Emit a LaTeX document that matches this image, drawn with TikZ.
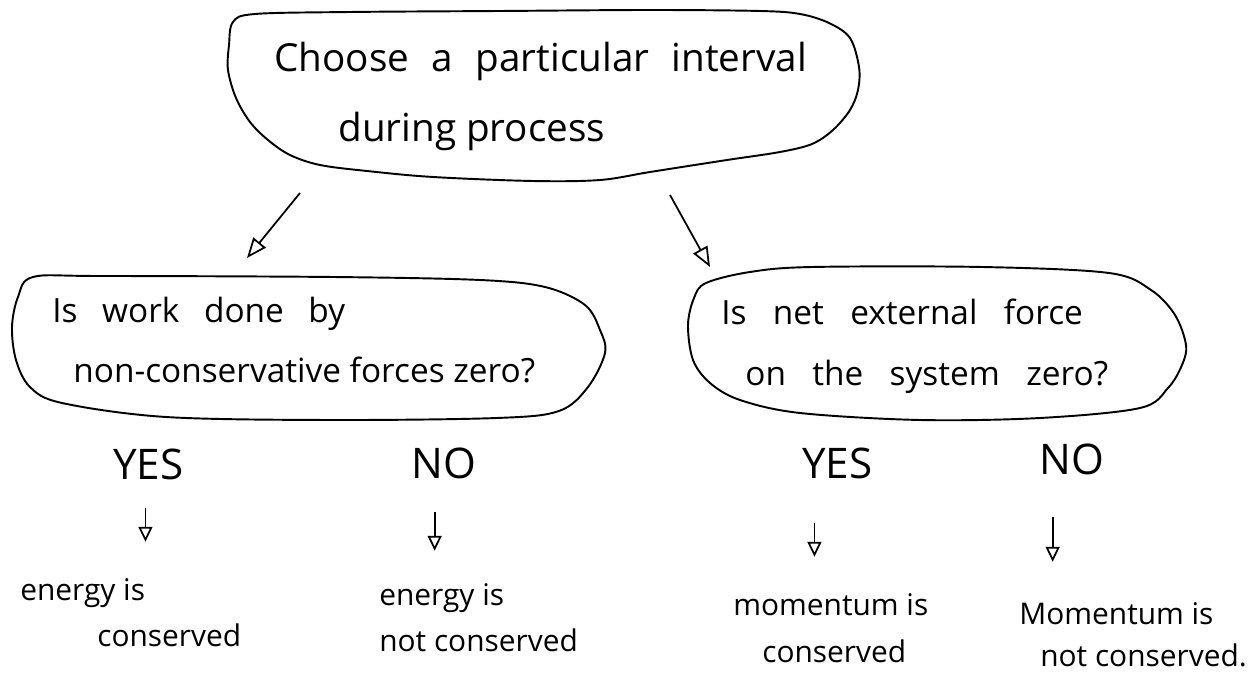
\documentclass[tikz,border=0pt]{standalone}
\usepackage{fontspec}
\setmainfont{Open Sans}
\usepackage{tikz}
\usetikzlibrary{arrows.meta}

\begin{document}
\begin{tikzpicture}[
  x=0.02cm, y=-0.02cm,
  blob/.style={draw, line width=1.1pt, line join=round},
  ttl/.style={anchor=base west, inner sep=0pt, font=\fontsize{22}{26}\selectfont},
  qst/.style={anchor=base west, inner sep=0pt, font=\fontsize{19}{23}\selectfont},
  ans/.style={anchor=base west, inner sep=0pt, font=\fontsize{24}{28}\selectfont},
  res/.style={anchor=base west, inner sep=0pt, font=\fontsize{17}{20}\selectfont},
  ws/.style={execute at begin node={\spaceskip=#1\relax}},
  tri/.style={-{Triangle[open, length=4mm, width=3.2mm]}, line width=1pt},
  dn/.style={-{Triangle[open, length=3mm, width=2.8mm]}, line width=1pt}
]
\fill[white] (0,0) rectangle (1257,675);
\useasboundingbox (0,0) rectangle (1257,675);

% top bubble
\draw[blob] plot[smooth cycle, tension=0.55] coordinates {
  (233,22) (255,14) (350,12) (500,11) (650,10) (760,11) (800,14) (829,23)
  (850,38) (859,67) (858,90) (850,110) (833,130) (812,144) (780,152)
  (727,160) (650,172) (600,180) (533,181) (433,177) (367,171) (320,165)
  (290,155) (268,140) (250,122) (236,98) (228,70) (229,45)};
\node[ttl, ws=12.8pt] (choose1) at (274,72) {Choose a particular interval};
\node[ttl] (choose2) at (338,142) {during process};

% left bubble
\draw[blob] plot[smooth cycle, tension=0.55] coordinates {
  (33,277) (100,276) (333,277) (480,280) (545,287) (585,305) (600,330)
  (605,353) (588,387) (559,411) (497,418) (331,420) (166,417) (62,403)
  (30,387) (16,360) (12,327) (18,297)};
\node[qst, ws=14pt] (work1) at (52,323) {Is work done by};
\node[qst] (work2) at (73,382) {non-conservative forces zero?};

% right bubble
\draw[blob] plot[smooth cycle, tension=0.55] coordinates {
  (706,283) (750,272) (812,267) (982,267) (1109,273) (1151,290) (1175,315)
  (1186,345) (1182,365) (1168,388) (1140,408) (1040,418) (920,420)
  (800,413) (740,400) (710,383) (693,360) (688,325) (694,298)};
\node[qst, ws=15pt] (net1) at (721,325) {Is net external force};
\node[qst, ws=15pt] (net2) at (745,385) {on the system zero?};

% answers
\node[ans] (yesW) at (113,479) {YES};
\node[ans] (noW)  at (411,478) {NO};
\node[ans] (yesF) at (802,478) {YES};
\node[ans] (noF)  at (1039,474) {NO};

% results
\node[res] (enY1) at (20,600)   {energy is};
\node[res] (enY2) at (97,646)   {conserved};
\node[res] (enN1) at (379,605)  {energy is};
\node[res] (enN2) at (379,651)  {not conserved};
\node[res] (moY1) at (733,615)  {momentum is};
\node[res] (moY2) at (762,662)  {conserved};
\node[res] (moN1) at (1019,624) {Momentum is};
\node[res] (moN2) at (1040,666) {not conserved.};

% arrows
\coordinate (chooseL) at (300,193);
\coordinate (workT)   at (247,258);
\coordinate (chooseR) at (670,195);
\coordinate (netT)    at (710,267);
\draw[tri] (chooseL) -- (workT);
\draw[tri] (chooseR) -- (netT);
\draw[dn] ([shift={(-3,28)}]yesW.south) -- ++(0,34);
\draw[dn] ([shift={(-9,33)}]noW.south) -- ++(0,39);
\draw[dn] ([shift={(-23,44)}]yesF.south) -- ++(0,34);
\draw[dn] ([shift={(-19,42)}]noF.south) -- ++(0,45);
\end{tikzpicture}
\end{document}
